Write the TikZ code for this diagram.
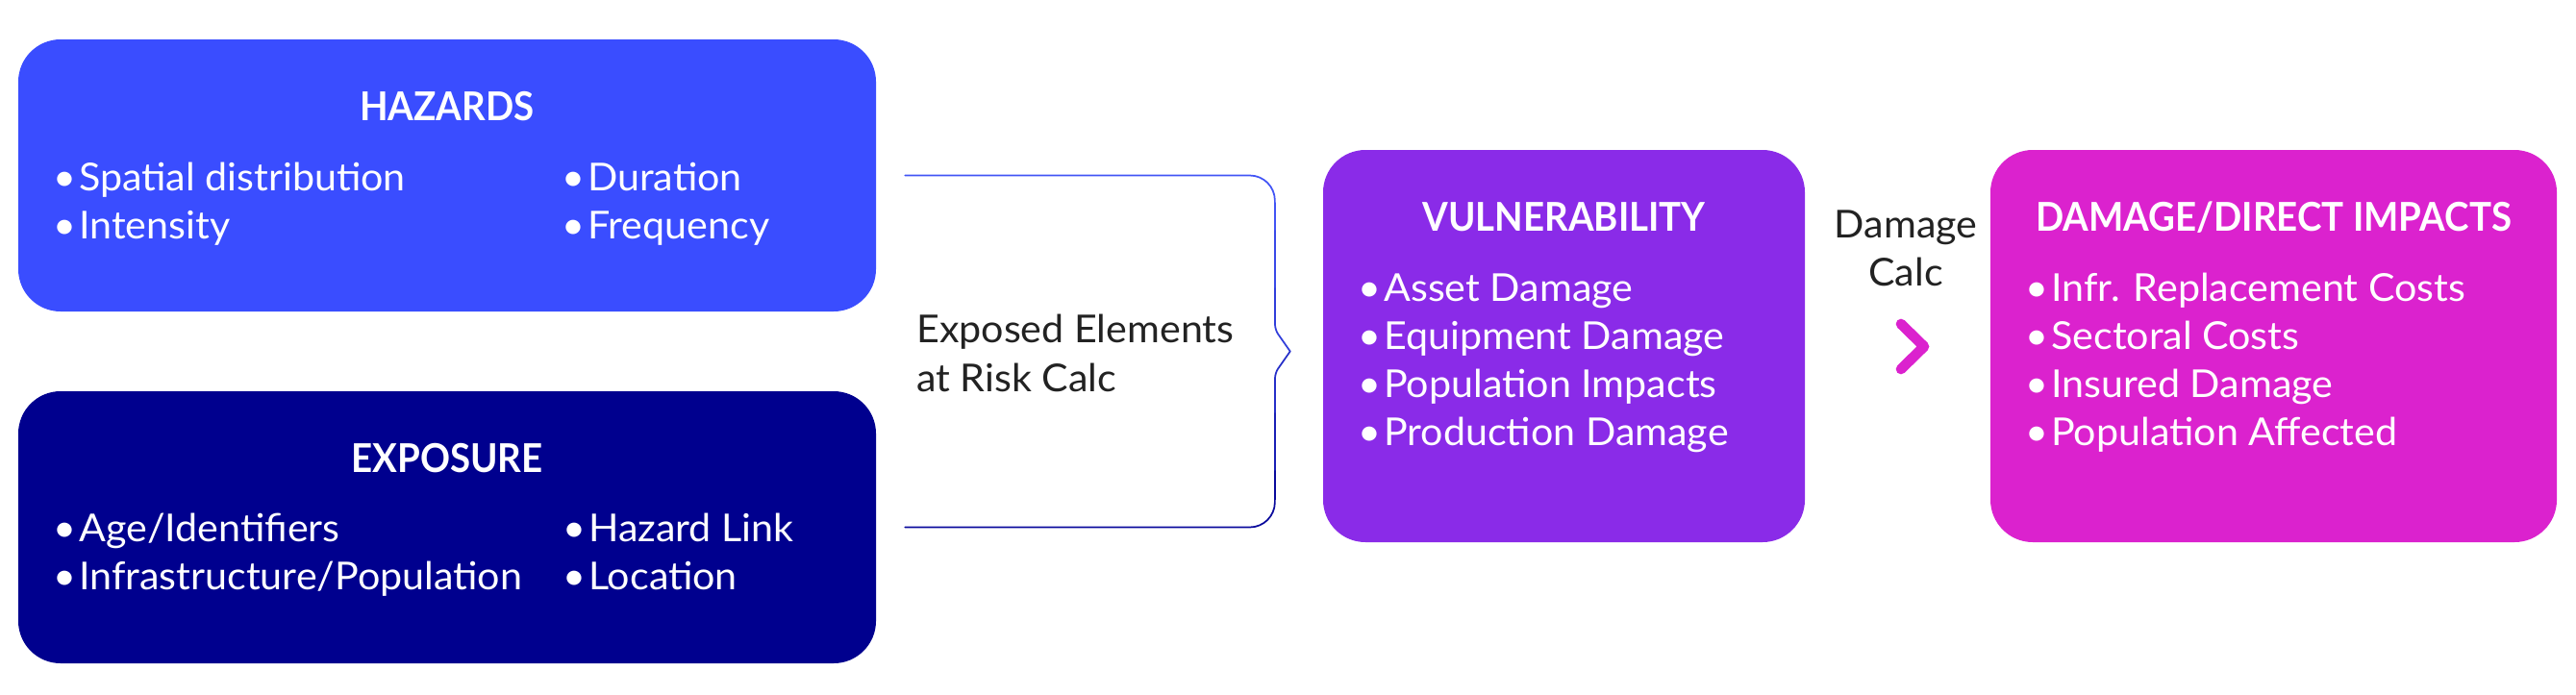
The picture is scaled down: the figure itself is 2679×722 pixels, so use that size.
\documentclass[tikz,border=0pt]{standalone}
\usepackage{fontspec}
\setmainfont{Lato}[FakeStretch=1.03]
\newfontfamily\titlefont{Lato}[FakeStretch=0.93]
\usetikzlibrary{calc}
\definecolor{hazblue}{HTML}{3A4DFF}
\definecolor{expnavy}{HTML}{00008E}
\definecolor{vulnpurple}{HTML}{8A2BE8}
\definecolor{dmgmagenta}{HTML}{DB22CE}
\definecolor{labelgray}{HTML}{222222}
\definecolor{brtop}{HTML}{4254F5}
\definecolor{brbot}{HTML}{0A0A9C}
\newcommand{\itembul}{\makebox[15.75pt][l]{\hspace{-4pt}•}}
\begin{document}
\begin{tikzpicture}[x=0.75pt,y=-0.75pt,
  box/.style={rounded corners=33pt, inner sep=0pt, draw=none},
  boxtitle/.style={anchor=base, inner sep=0pt, text=white, font=\titlefont\fontsize{31pt}{37.5pt}\selectfont\bfseries},
  item/.style={anchor=base west, inner sep=0pt, text=white, font=\fontsize{30pt}{37.5pt}\selectfont},
  steplabel/.style={inner sep=0pt, text=labelgray, font=\fontsize{30pt}{37.5pt}\selectfont},
  bracketline/.style={line width=1.3pt, line cap=round, line join=round},
  chevron/.style={draw=dmgmagenta, line width=8pt, line cap=round, line join=round},
]
\useasboundingbox (0,0) rectangle (2679,722);

% boxes
\node[box, fill=hazblue, minimum width=669pt, minimum height=212.25pt] (haz) at (465,182.5) {};
\node[box, fill=expnavy, minimum width=669pt, minimum height=212.25pt] (exp) at (465,548.5) {};
\node[box, fill=vulnpurple, minimum width=375.75pt, minimum height=306pt] (vuln) at (1626.5,360) {};
\node[box, fill=dmgmagenta, minimum width=441.75pt, minimum height=306pt] (dmg) at (2364.5,360) {};

% hazards
\node[boxtitle] (hazt) at (465,125) {HAZARDS};
\node[item] (haz1) at (61,198) {\itembul Spatial distribution};
\node[item] (haz2) at (61,248) {\itembul Intensity};
\node[item] (haz3) at (590,198) {\itembul Duration};
\node[item] (haz4) at (590,248) {\itembul Frequency};

% exposure
\node[boxtitle] (expt) at (465,491) {EXPOSURE};
\node[item] (exp1) at (61,563) {\itembul Age/Identifiers};
\node[item] (exp2) at (61,613) {\itembul Infrastructure/Population};
\node[item] (exp3) at (591,563) {\itembul Hazard Link};
\node[item] (exp4) at (591,613) {\itembul Location};

% vulnerability
\node[boxtitle] (vulnt) at (1626.5,240) {VULNERABILITY};
\node[item] (vuln1) at (1418,313) {\itembul Asset Damage};
\node[item] (vuln2) at (1418,363) {\itembul Equipment Damage};
\node[item] (vuln3) at (1418,413) {\itembul Population Impacts};
\node[item] (vuln4) at (1418,463) {\itembul Production Damage};

% damage
\node[boxtitle] (dmgt) at (2364.5,240) {DAMAGE/DIRECT IMPACTS};
\node[item] (dmg1) at (2112,313) {\itembul Infr. Replacement Costs};
\node[item] (dmg2) at (2112,363) {\itembul Sectoral Costs};
\node[item] (dmg3) at (2112,413) {\itembul Insured Damage};
\node[item] (dmg4) at (2112,463) {\itembul Population Affected};

% bracket connector
\coordinate (bt) at ($(haz.east)+(30,0)$);
\coordinate (bb) at ($(exp.east)+(30,0)$);
\coordinate (bx) at ($(vuln.west)+(-50,0)$);
\coordinate (tip) at ($(vuln.west)+(-34,5.5)$);
\draw[bracketline, brtop, rounded corners=19.5pt] (bt) -- (bt -| bx) -- (1326,240);
\draw[bracketline, brtop!85!brbot] (1326,240) -- (1326,300);
\draw[bracketline, brtop!70!brbot, rounded corners=4pt] (1326,300) -- (1326,343) -- (tip);
\draw[bracketline, brtop!50!brbot, rounded corners=4pt] (tip) -- (1326,388) -- (1326,430);
\draw[bracketline, brtop!28!brbot] (1326,430) -- (1326,490);
\draw[bracketline, brbot, rounded corners=19.5pt] (1326,490) -- (bb -| bx) -- (bb);

\node[steplabel, anchor=base west] (lab1) at (953,356) {Exposed Elements};
\node[steplabel, anchor=base west] (lab2) at (953,407) {at Risk Calc};

% damage calc
\node[steplabel, anchor=base] (dc1) at (1982,247) {Damage};
\node[steplabel, anchor=base] (dc2) at (1982,297) {Calc};
\coordinate (cv1) at (1977,337);
\coordinate (cv2) at (2001,360.5);
\coordinate (cv3) at (1977,384);
\draw[chevron] (cv1) -- (cv2) -- (cv3);
\end{tikzpicture}
\end{document}
